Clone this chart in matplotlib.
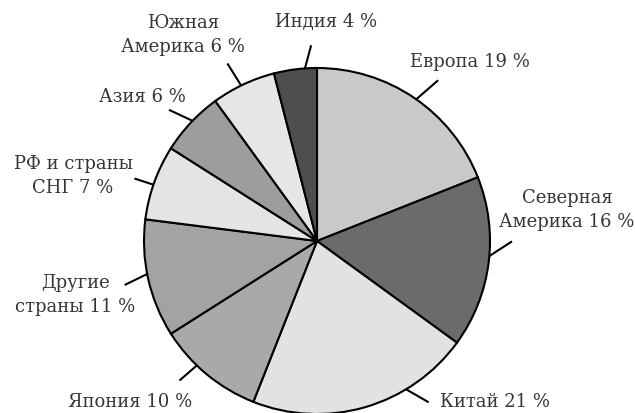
import matplotlib.pyplot as plt
import numpy as np

# доли регионов, по часовой стрелке от верхней точки
labels = ['Европа 19 %', 'Северная\nАмерика 16 %', 'Китай 21 %', 'Япония 10 %',
          'Другие\nстраны 11 %', 'РФ и страны\nСНГ 7 %', 'Азия 6 %',
          'Южная\nАмерика 6 %', 'Индия 4 %']
shares = [19, 16, 21, 10, 11, 7, 6, 6, 4]
colors = ['#c9c9c9', '#6b6b6b', '#e2e2e2', '#a9a9a9', '#a3a3a3',
          '#e4e4e4', '#9d9d9d', '#e6e6e6', '#4e4e4e']

# где стоят подписи (пиксели от левого верхнего угла)
text_xy = [(470, 62), (567, 210), (495, 402), (130, 402), (75, 295),
           (73, 176), (142, 97), (183, 35), (326, 22)]
# выноски: угол точки на окружности, направление, длина (пиксели)
leaders = [(55, 41, 29), (-5, 33, 27), (-59, -30, 26), (-134, -139, 23),
           (-169, -154, 25), (161, 162, 20), (136, 155, 26), (116, 122, 26),
           (94, 75, 24)]

W, H = 635, 414
cx, cy, R = 317, H - 242, 173

fig = plt.figure(figsize=(6.35, 4.14), dpi=100)
ax = fig.add_axes([0, 0, 1, 1])

wedges, _ = ax.pie(shares, colors=colors, startangle=90, counterclock=False,
                   center=(cx, cy), radius=R,
                   wedgeprops=dict(edgecolor='black', linewidth=1.5))

for at, d, ln in leaders:
    a, b = np.deg2rad(at), np.deg2rad(d)
    x0, y0 = cx + R * np.cos(a), cy + R * np.sin(a)
    ax.plot([x0, x0 + ln * np.cos(b)], [y0, y0 + ln * np.sin(b)],
            color='black', lw=1.5, solid_capstyle='butt')

for lab, (x, y) in zip(labels, text_xy):
    ax.text(x, H - y, lab, ha='center', va='center', multialignment='center',
            family='DejaVu Serif', fontsize=13, color='#363636', linespacing=1.45)

ax.set_xlim(0, W)
ax.set_ylim(0, H)
ax.set_aspect('equal')
ax.axis('off')

fig.savefig('out.png', dpi=100)
